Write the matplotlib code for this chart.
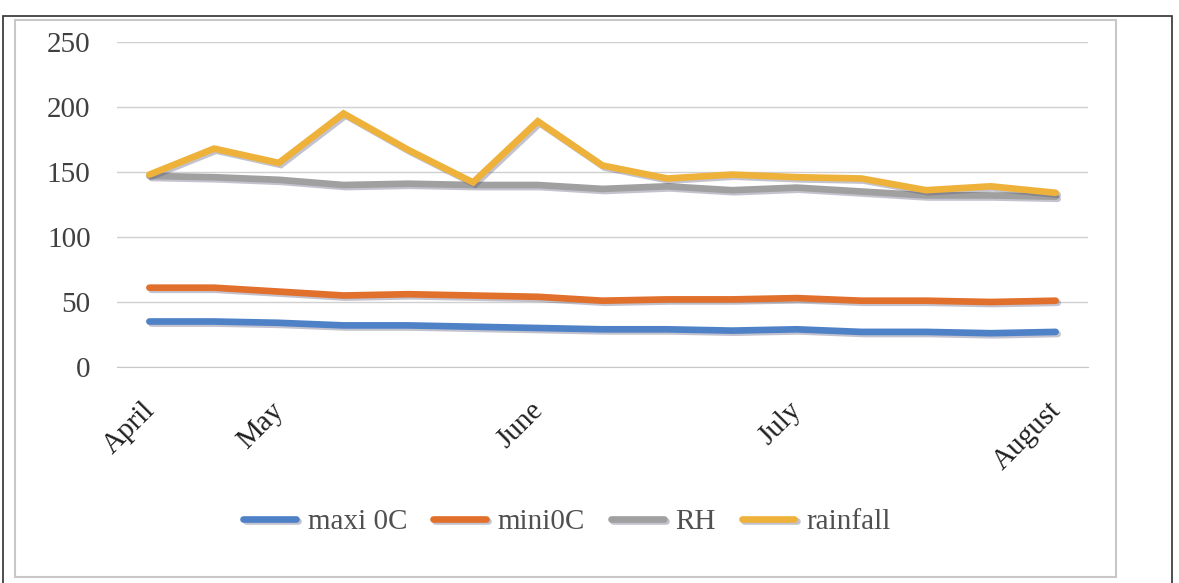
import matplotlib
matplotlib.use("Agg")
import matplotlib.pyplot as plt
import matplotlib.patheffects as pe
import matplotlib.transforms as mtransforms
from matplotlib.patches import Rectangle

# values (15 points, April -> August)
months = ["April", "", "May", "", "", "", "June", "", "", "", "July", "", "", "", "August"]
maxi_0c = [35, 35, 34, 32, 32, 31, 30, 29, 29, 28, 29, 27, 27, 26, 27]
mini_0c = [61, 61, 58, 55, 56, 55, 54, 51, 52, 52, 53, 51, 51, 50, 51]
rh = [147, 146, 144, 140, 141, 140, 140, 137, 139, 136, 138, 135, 132, 132, 131]
rainfall = [148, 168, 157, 195, 167, 142, 189, 155, 145, 148, 146, 145, 136, 139, 134]

series = [
    ("maxi 0C", maxi_0c, "#4f81c7"),
    ("mini0C", mini_0c, "#e0702c"),
    ("RH", rh, "#a0a0a0"),
    ("rainfall", rainfall, "#eeb23a"),
]

plt.rcParams["font.family"] = ["Liberation Serif", "DejaVu Serif"]
W, H = 1179, 583
fig = plt.figure(figsize=(W / 100, H / 100), dpi=100)
ax = fig.add_axes([117 / W, 1 - 367 / H, (1088 - 117) / W, (367 - 42) / H])

x = list(range(len(months)))
shadow = [pe.SimpleLineShadow(offset=(1.5, -1.5), shadow_color="#555577", alpha=0.35), pe.Normal()]
for name, vals, col in series:
    ax.plot(x, vals, color=col, lw=4.8, label=name, solid_capstyle="round",
            solid_joinstyle="miter", path_effects=shadow)

ax.set_xlim(-0.5, len(months) - 0.5)
ax.set_ylim(0, 250)
ax.set_yticks(range(0, 251, 50))
ax.grid(axis="y", color="#d0d0d0", lw=1)
ax.set_axisbelow(True)
for s in ["top", "right", "left"]:
    ax.spines[s].set_visible(False)
ax.spines["bottom"].set_color("#c8c8c8")
ax.set_xticks(x)
ax.set_xticklabels(months, rotation=45, ha="right", rotation_mode="anchor")
ax.tick_params(axis="both", length=0, labelsize=21, labelcolor="#404040")
ax.tick_params(axis="x", pad=22, labelcolor="#202020")
ax.tick_params(axis="y", pad=19)
shift = mtransforms.ScaledTranslation(-8 / 100, 0, fig.dpi_scale_trans)
for lab in ax.get_xticklabels():
    lab.set_transform(lab.get_transform() + shift)

leg = fig.legend(loc="center", bbox_to_anchor=(567 / W, 1 - 522 / H), ncol=4, frameon=False,
                 fontsize=21, handlelength=1.8, handletextpad=0.4, columnspacing=0.9)
for t in leg.get_texts():
    t.set_color("#505050")

# scanned page frames
fig.patches.append(Rectangle((15 / W, 1 - 577 / H), (1116 - 15) / W, (577 - 20) / H,
                             transform=fig.transFigure, fill=False, ec="#c8c8c8", lw=1.5))
fig.patches.append(Rectangle((3 / W, -0.05), (1172 - 3) / W, 1.05 - 16 / H,
                             transform=fig.transFigure, fill=False, ec="#303030", lw=1.2))

fig.savefig("out.png", dpi=100)
